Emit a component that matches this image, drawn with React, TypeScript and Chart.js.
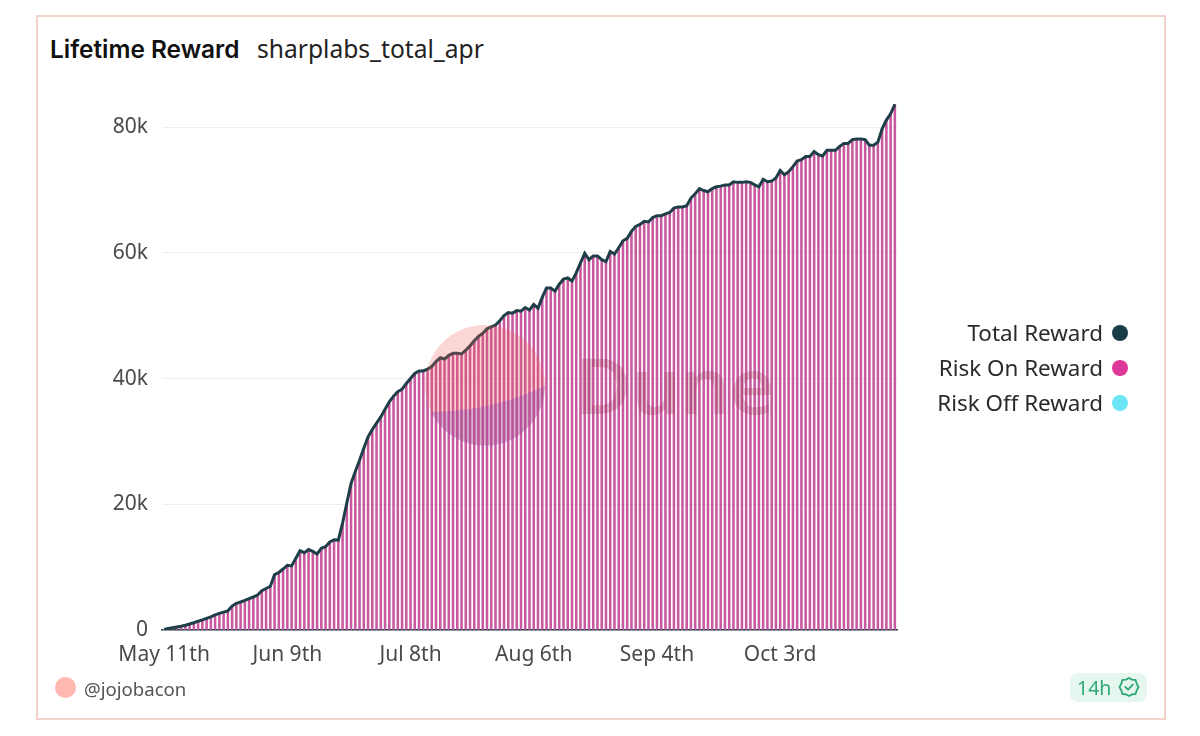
import React, { useEffect, useRef } from "react";
import { Chart, registerables } from "chart.js";

Chart.register(...registerables);

const START_MONTH = 4;
const START_DAY = 11;
const LABEL_EVERY = 29;
const suffix = (d: number) => {
  if (d % 100 >= 11 && d % 100 <= 13) return "th";
  return ["th", "st", "nd", "rd"][d % 10] || "th";
};
const monthNames = ["Jan", "Feb", "Mar", "Apr", "May", "Jun", "Jul", "Aug", "Sep", "Oct", "Nov", "Dec"];
const yTickValues = [0, 20000, 40000, 60000, 80000];

const totalReward = [
  100, 260, 370, 480, 600, 750, 950, 1150, 1400, 1600,
  1850, 2100, 2400, 2650, 2850, 3050, 3800, 4250, 4450, 4700,
  5000, 5250, 5550, 6250, 6600, 6950, 8800, 9150, 9700, 10300,
  10200, 11400, 12600, 12300, 12800, 12500, 12100, 13000, 13250, 14000,
  14350, 14300, 17000, 20200, 23300, 25200, 27000, 28900, 30700, 31900,
  32900, 33900, 35100, 36300, 37200, 37900, 38300, 39200, 40000, 40800,
  41200, 41200, 41500, 41900, 42700, 43300, 43100, 43700, 44000, 44000,
  43900, 44500, 45200, 46000, 46700, 47200, 47900, 48200, 48500, 49200,
  50000, 50500, 50400, 50800, 50700, 51300, 50900, 51800, 51200, 52900,
  54400, 54400, 53900, 55000, 55800, 56000, 55500, 56800, 58400, 59900,
  58900, 59500, 59500, 58900, 58600, 60200, 59800, 60800, 61900, 62300,
  63400, 64200, 64500, 65000, 64900, 65600, 65900, 65900, 66200, 66400,
  67100, 67300, 67300, 67500, 68700, 69400, 70200, 69900, 69700, 70200,
  70500, 70600, 70800, 70800, 71300, 71200, 71200, 71300, 71200, 70800,
  70500, 71700, 71300, 71400, 71900, 73100, 72400, 72900, 73700, 74600,
  74800, 75300, 75300, 76100, 75600, 75400, 76300, 76300, 76300, 76900,
  77400, 77400, 78000, 78100, 78100, 78000, 77100, 77100, 77600, 79700,
  81100, 82100, 83600,
];

const riskOnReward = [
  100, 260, 370, 480, 600, 750, 950, 1150, 1400, 1600,
  1850, 2100, 2400, 2650, 2850, 3050, 3800, 4250, 4450, 4700,
  5000, 5250, 5550, 6250, 6600, 6950, 8800, 9150, 9700, 10300,
  10200, 11400, 12600, 12300, 12800, 12500, 12100, 13000, 13250, 14000,
  14350, 14300, 17000, 20200, 23300, 25200, 27000, 28900, 30700, 31900,
  32900, 33900, 35100, 36300, 37200, 37900, 38300, 39200, 40000, 40800,
  41200, 41200, 41500, 41900, 42700, 43300, 43100, 43700, 44000, 44000,
  43900, 44500, 45200, 46000, 46700, 47200, 47900, 48200, 48500, 49200,
  50000, 50500, 50400, 50800, 50700, 51300, 50900, 51800, 51200, 52900,
  54400, 54400, 53900, 55000, 55800, 56000, 55500, 56800, 58400, 59900,
  58900, 59500, 59500, 58900, 58600, 60200, 59800, 60800, 61900, 62300,
  63400, 64200, 64500, 65000, 64900, 65600, 65900, 65900, 66200, 66400,
  67100, 67300, 67300, 67500, 68700, 69400, 70200, 69900, 69700, 70200,
  70500, 70600, 70800, 70800, 71300, 71200, 71200, 71300, 71200, 70800,
  70500, 71700, 71300, 71400, 71900, 73100, 72400, 72900, 73700, 74600,
  74800, 75300, 75300, 76100, 75600, 75400, 76300, 76300, 76300, 76900,
  77400, 77400, 78000, 78100, 78100, 78000, 77100, 77100, 77600, 79700,
  81100, 82100, 83600,
];

const riskOffReward = [
  0, 0, 0, 0, 0, 0, 0, 0, 0, 0, 0, 0, 0, 0, 0, 0, 0, 0, 0, 0,
  0, 0, 0, 0, 0, 0, 0, 0, 0, 0, 0, 0, 0, 0, 0, 0, 0, 0, 0, 0,
  0, 0, 0, 0, 0, 0, 0, 0, 0, 0, 0, 0, 0, 0, 0, 0, 0, 0, 0, 0,
  0, 0, 0, 0, 0, 0, 0, 0, 0, 0, 0, 0, 0, 0, 0, 0, 0, 0, 0, 0,
  0, 0, 0, 0, 0, 0, 0, 0, 0, 0, 0, 0, 0, 0, 0, 0, 0, 0, 0, 0,
  0, 0, 0, 0, 0, 0, 0, 0, 0, 0, 0, 0, 0, 0, 0, 0, 0, 0, 0, 0,
  0, 0, 0, 0, 0, 0, 0, 0, 0, 0, 0, 0, 0, 0, 0, 0, 0, 0, 0, 0,
  0, 0, 0, 0, 0, 0, 0, 0, 0, 0, 0, 0, 0, 0, 0, 0, 0, 0, 0, 0,
  0, 0, 0, 0, 0, 0, 0, 0, 0, 0, 0, 0, 0,
];

const categories = totalReward.map((_, i) => {
  const d = new Date(Date.UTC(2023, START_MONTH, START_DAY + i));
  return `${monthNames[d.getUTCMonth()]} ${d.getUTCDate()}${suffix(d.getUTCDate())}`;
});

const legendItems = [
  { name: "Total Reward", color: "#1a3d47" },
  { name: "Risk On Reward", color: "#dd3a97" },
  { name: "Risk Off Reward", color: "#6ce5f6" },
];

const FONT = '"Noto Sans", sans-serif';

export default function App() {
  const ref = useRef<HTMLCanvasElement>(null);
  useEffect(() => {
    if (!ref.current) return;
    const chart = new Chart(ref.current, {
      type: "bar",
      data: {
        labels: categories,
        datasets: [
          {
            type: "line",
            label: "Total Reward",
            data: totalReward,
            borderColor: "#1e3e48",
            borderWidth: 3,
            pointRadius: 0,
            tension: 0,
            order: 0,
            stack: "line",
          } as any,
          {
            label: "Risk On Reward",
            data: riskOnReward,
            backgroundColor: "#c8589f",
            barThickness: 1.9,
            order: 1,
            stack: "a",
          },
          {
            label: "Risk Off Reward",
            data: riskOffReward,
            backgroundColor: "#6ce5f6",
            barThickness: 1.9,
            order: 2,
            stack: "a",
          },
        ],
      },
      options: {
        responsive: false,
        animation: false,
        layout: { padding: { left: 0, right: 303, top: 95.6, bottom: 0 } },
        plugins: { legend: { display: false }, tooltip: { enabled: false } },
        scales: {
          x: {
            stacked: true,
            grid: { display: false, drawTicks: false },
            border: { display: true, color: "#1e3e48", width: 1.6 },
            afterFit: (s: any) => { s.height = 106; },
            ticks: {
              autoSkip: false,
              maxRotation: 0,
              minRotation: 0,
              padding: 12,
              color: "#4a4a4a",
              font: { family: FONT, size: 21 },
              callback: (_v: any, i: number) => (i % LABEL_EVERY === 0 ? categories[i] : ""),
            },
          },
          y: {
            min: 0,
            max: 85000,
            stacked: true,
            afterFit: (s: any) => { s.width = 162; },
            afterBuildTicks: (s: any) => { s.ticks = yTickValues.map((value) => ({ value })); },
            grid: { color: "#eeeeee", drawTicks: false },
            border: { display: false },
            ticks: {
              padding: 14,
              color: "#4a4a4a",
              font: { family: FONT, size: 21 },
              callback: (v: any) => (v === 0 ? "0" : `${Number(v) / 1000}k`),
            },
          },
        },
      },
    });
    return () => chart.destroy();
  }, []);

  return (
    <div style={{ position: "fixed", left: 0, top: 0, width: 1200, height: 736, background: "#fff", overflow: "hidden", fontFamily: FONT }}>
      <div style={{ position: "absolute", left: 36, top: 15, width: 1126, height: 701, border: "2px solid #f2d2ca" }} />
      <div style={{ position: "absolute", left: 50, top: 32, fontFamily: "Inter, sans-serif", fontWeight: 600, fontSize: 24.4, lineHeight: "34px", color: "#111" }}>Lifetime Reward</div>
      <div style={{ position: "absolute", left: 257, top: 32, fontSize: 24.6, lineHeight: "34px", color: "#222" }}>sharplabs_total_apr</div>
      <canvas ref={ref} width={1200} height={736} style={{ position: "absolute", left: 0, top: 0, display: "block" }} />
      <svg width={1200} height={736} style={{ position: "absolute", left: 0, top: 0, pointerEvents: "none" }}>
        <circle cx={485} cy={385} r={60} fill="#f2605a" fillOpacity={0.26} />
        <path d="M545 386 A60 60 0 0 1 431 412 Q490 412 545 386 Z" fill="#6a3fc0" fillOpacity={0.24} />
        <text x={575} y={414} fontFamily={FONT} fontWeight={600} fontSize={77} fill="#8d2a45" fillOpacity={0.24}>Dune</text>
      </svg>
      {legendItems.map((it, i) => (
        <React.Fragment key={it.name}>
          <div style={{ position: "absolute", right: 97, top: 316 + i * 35, fontSize: 22.4, lineHeight: "34px", color: "#2a2a2a", whiteSpace: "nowrap" }}>{it.name}</div>
          <div style={{ position: "absolute", left: 1112, top: 325 + i * 35, width: 16, height: 16, borderRadius: "50%", background: it.color }} />
        </React.Fragment>
      ))}
      <div style={{ position: "absolute", left: 55, top: 677, width: 21, height: 21, borderRadius: "50%", background: "#ffb9b1" }} />
      <div style={{ position: "absolute", left: 84, top: 675, fontSize: 18.6, lineHeight: "28px", color: "#555" }}>@jojobacon</div>
      <div style={{ position: "absolute", left: 1070, top: 673, width: 77, height: 29, borderRadius: 8, background: "#e6f7ef" }} />
      <div style={{ position: "absolute", left: 1077, top: 673, fontSize: 19.5, lineHeight: "29px", color: "#2fa877" }}>14h</div>
      <svg width={22} height={22} viewBox="0 0 22 22" style={{ position: "absolute", left: 1118, top: 676 }}>
        <path d="M11 2 L14 3.6 L17.6 4 L18.6 7.5 L20.5 11 L18.6 14.5 L17.6 18 L14 18.4 L11 20 L8 18.4 L4.4 18 L3.4 14.5 L1.5 11 L3.4 7.5 L4.4 4 L8 3.6 Z" fill="none" stroke="#2fa877" strokeWidth={1.8} strokeLinejoin="round" />
        <path d="M7.3 11 L10 13.6 L14.8 8.6" fill="none" stroke="#2fa877" strokeWidth={1.8} strokeLinecap="round" strokeLinejoin="round" />
      </svg>
    </div>
  );
}
